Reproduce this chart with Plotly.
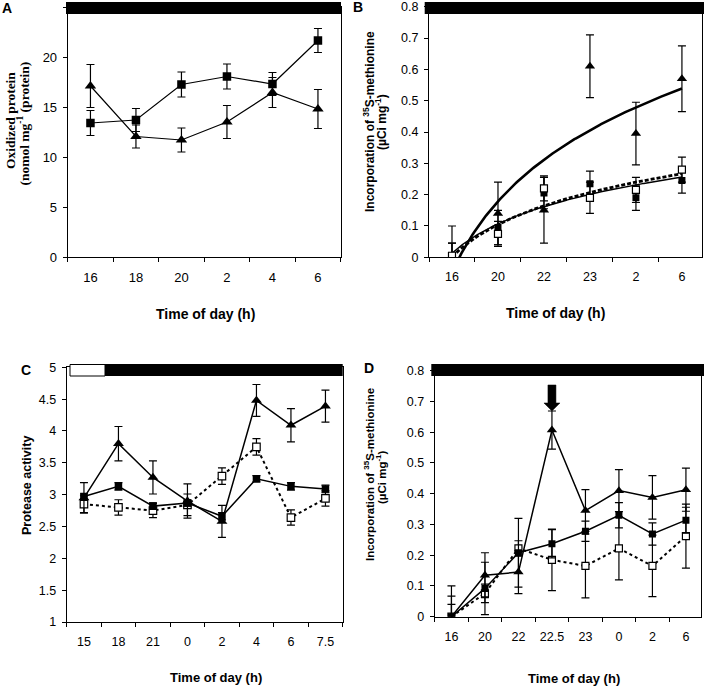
import numpy as np
import plotly.graph_objects as go

W, H = 704, 686

# ---------------- data ----------------
A_labels = ["16", "18", "20", "2", "4", "6"]
A_sq = [13.4, 13.7, 17.25, 18.05, 17.3, 21.65]
A_sq_err = [1.25, 1.15, 1.25, 1.25, 1.15, 1.2]
A_tri = [17.1, 12.05, 11.7, 13.5, 16.45, 14.8]
A_tri_err = [2.15, 1.15, 1.2, 1.65, 1.5, 1.95]

B_labels = ["16", "20", "22", "23", "2", "6"]
B_tri = [0.0, 0.14, 0.15, 0.61, 0.395, 0.57]
B_tri_err = [0.10, 0.10, 0.105, 0.10, 0.10, 0.105]
B_sq = [0.0, 0.095, 0.205, 0.235, 0.19, 0.245]
B_sq_err = [0.045, 0.055, 0.05, 0.04, 0.04, 0.04]
B_open = [0.005, 0.075, 0.22, 0.19, 0.215, 0.28]
B_open_err = [0.04, 0.04, 0.04, 0.05, 0.04, 0.04]

C_labels = ["15", "18", "21", "0", "2", "4", "6", "7.5"]
C_tri = [2.95, 3.8, 3.27, 2.9, 2.58, 4.48, 4.09, 4.39]
C_tri_err = [0.24, 0.27, 0.26, 0.27, 0.25, 0.25, 0.26, 0.25]
C_sq = [2.97, 3.13, 2.82, 2.87, 2.66, 3.25, 3.13, 3.09]
C_sq_err = [0.04, 0.06, 0.05, 0.05, 0.06, 0.05, 0.06, 0.06]
C_open = [2.85, 2.8, 2.75, 2.84, 3.29, 3.75, 2.64, 2.94]
C_open_err = [0.13, 0.12, 0.11, 0.17, 0.13, 0.13, 0.12, 0.12]

D_labels = ["16", "20", "22", "22.5", "23", "0", "2", "6"]
D_tri = [0.0, 0.135, 0.145, 0.607, 0.345, 0.41, 0.388, 0.413]
D_tri_err = [0.1, 0.073, 0.07, 0.062, 0.068, 0.068, 0.071, 0.07]
D_sq = [0.0, 0.092, 0.208, 0.237, 0.278, 0.33, 0.269, 0.314]
D_sq_err = [0.067, 0.085, 0.112, 0.046, 0.033, 0.041, 0.036, 0.042]
D_open = [0.0, 0.076, 0.222, 0.185, 0.165, 0.222, 0.165, 0.262]
D_open_err = [0.04, 0.03, 0.025, 0.1, 0.104, 0.102, 0.1, 0.104]
D_arrow_label = "22.5"

# ---------------- helpers ----------------
SANS = "Liberation Sans, Arial, sans-serif"
SERIF = "Liberation Serif, Times New Roman, serif"


def px(x):
    return x / W


def py(y):
    return 1 - y / H


fig = go.Figure()


def err(arr, w=4):
    return dict(type="data", array=arr, visible=True, color="black", thickness=1.2, width=w)


def add_series(xa, ya, xs, ys, es, kind, mode, size, line=None):
    if kind == "tri":
        marker = dict(symbol="triangle-up", size=size, color="black")
    elif kind == "sq":
        marker = dict(symbol="square", size=size, color="black")
    else:
        marker = dict(symbol="square", size=size, color="white", line=dict(color="black", width=1.2))
    fig.add_trace(go.Scatter(x=xs, y=ys, mode=mode, marker=marker, line=line,
                             error_y=err(es), xaxis=xa, yaxis=ya, showlegend=False,
                             hoverinfo="skip"))


# Panel A
xa = list(range(len(A_labels)))
add_series("x", "y", xa, A_sq, A_sq_err, "sq", "lines+markers", 8.5, dict(color="black", width=1.2))
add_series("x", "y", xa, A_tri, A_tri_err, "tri", "lines+markers", 10, dict(color="black", width=1.2))

# Panel B: points + logarithmic trendlines fitted to the data
xb = list(range(len(B_labels)))
grid = np.linspace(0, len(B_labels) - 1, 200)
for vals, style in [(B_tri, dict(color="black", width=2.6)),
                    (B_sq, dict(color="black", width=1.5)),
                    (B_open, dict(color="black", width=2.8, dash="4px,2px"))]:
    a, b = np.polyfit(np.log(np.array(xb) + 1.0), np.array(vals), 1)
    fig.add_trace(go.Scatter(x=grid, y=a * np.log(grid + 1.0) + b, mode="lines", line=style,
                             xaxis="x2", yaxis="y2", showlegend=False, hoverinfo="skip"))
add_series("x2", "y2", xb, B_tri, B_tri_err, "tri", "markers", 9)
add_series("x2", "y2", xb, B_sq, B_sq_err, "sq", "markers", 7)
add_series("x2", "y2", xb, B_open, B_open_err, "open", "markers", 7)

# Panel C
xc = list(range(len(C_labels)))
add_series("x3", "y3", xc, C_open, C_open_err, "open", "lines+markers", 7.5,
           dict(color="black", width=2, dash="dot"))
add_series("x3", "y3", xc, C_tri, C_tri_err, "tri", "lines+markers", 9.5, dict(color="black", width=1.5))
add_series("x3", "y3", xc, C_sq, C_sq_err, "sq", "lines+markers", 7.5, dict(color="black", width=1.5))

# Panel D
xd = list(range(len(D_labels)))
add_series("x4", "y4", xd, D_open, D_open_err, "open", "lines+markers", 7,
           dict(color="black", width=2, dash="dot"))
add_series("x4", "y4", xd, D_tri, D_tri_err, "tri", "lines+markers", 9, dict(color="black", width=1.5))
add_series("x4", "y4", xd, D_sq, D_sq_err, "sq", "lines+markers", 7, dict(color="black", width=1.5))

# ---------------- axes ----------------


def tf(size):
    return dict(family=SANS, size=size, color="black")


def xaxis_cfg(labels, dom, rng, fs):
    n = len(labels)
    return dict(domain=[px(dom[0]), px(dom[1])], range=rng, tickmode="array",
                tickvals=list(range(n)), ticktext=labels, ticks="outside", ticklen=0,
                tickcolor="rgba(0,0,0,0)",
                minor=dict(tickmode="array", tickvals=[i - 0.5 for i in range(n + 1)],
                           ticks="outside", ticklen=4, tickcolor="black", tickwidth=1, showgrid=False),
                showline=True, linecolor="black", linewidth=1, mirror=True, showgrid=False,
                zeroline=False, tickfont=tf(fs), automargin=False, ticklabelstandoff=8,
                fixedrange=True)


def yaxis_cfg(ydom, rng, dtick, fs):
    return dict(domain=[py(ydom[1]), py(ydom[0])], range=rng, dtick=dtick, tick0=rng[0],
                ticks="outside", ticklen=4, tickcolor="black", showline=True, linecolor="black",
                linewidth=1, mirror=True, showgrid=False, zeroline=False, tickfont=tf(fs),
                automargin=False, ticklabelstandoff=3, fixedrange=True)


layout = dict(
    width=W, height=H, margin=dict(l=0, r=0, t=0, b=0),
    paper_bgcolor="white", plot_bgcolor="white", template="none", showlegend=False,
    xaxis=dict(xaxis_cfg(A_labels, (67.7, 340.7), [-0.5, 5.5], 13), anchor="y"),
    yaxis=dict(yaxis_cfg((7, 257), [0, 25], 5, 13), anchor="x"),
    xaxis2=dict(xaxis_cfg(B_labels, (429, 701.7), [-0.5, 5.43], 12.5), anchor="y2"),
    yaxis2=dict(yaxis_cfg((6.7, 257.3), [0, 0.8], 0.1, 12.5), anchor="x2"),
    xaxis3=dict(xaxis_cfg(C_labels, (66.7, 342.7), [-0.5, 7.5], 12.5), anchor="y3"),
    yaxis3=dict(yaxis_cfg((367.3, 622), [1, 5], 0.5, 12.5), anchor="x3"),
    xaxis4=dict(xaxis_cfg(D_labels, (434.7, 701), [-0.5, 7.45], 12.5), anchor="y4"),
    yaxis4=dict(yaxis_cfg((370.7, 616.7), [0, 0.8], 0.1, 12.5), anchor="x4"),
)
fig.update_layout(**layout)

# ---------------- light/dark bars ----------------
shapes = []


def rect(x0, x1, y0, y1, fill, line_w=0):
    shapes.append(dict(type="rect", xref="paper", yref="paper", x0=px(x0), x1=px(x1),
                       y0=py(y1), y1=py(y0), fillcolor=fill,
                       line=dict(color="black", width=line_w), layer="above"))


rect(66, 341, 2, 14, "black")
rect(424.7, 704, 2, 14, "black")
rect(70, 105, 364.5, 376, "white", 1)
rect(105, 342.7, 364, 376, "black")
rect(431.3, 704, 364, 376, "black")

# arrow in D pointing at the peak (tip at top of the error bar)
k = D_labels.index(D_arrow_label)
tip = D_tri[k] + D_tri_err[k]
shapes.append(dict(type="path", xref="x4", yref="y4", xsizemode="pixel", ysizemode="pixel",
                   xanchor=k, yanchor=tip,
                   path="M-4,26 L4,26 L4,8 L8,8 L0,0 L-8,8 L-4,8 Z",
                   fillcolor="black", line=dict(color="black", width=0.5), layer="above"))
fig.update_layout(shapes=shapes)

# ---------------- text ----------------
ann = []


def text(x, y, s, size=12.5, angle=0, family=SANS, bold=True):
    ann.append(dict(x=px(x), y=py(y), xref="paper", yref="paper", text=("<b>%s</b>" % s) if bold else s,
                    showarrow=False, textangle=angle, xanchor="center", yanchor="middle",
                    font=dict(family=family, size=size, color="black")))


text(7, 8.3, "A", 14)
text(357.5, 6.7, "B", 14)
text(26, 369.5, "C", 14)
text(369, 368.3, "D", 14)

text(205, 314, "Time of day (h)", 14)
text(555, 313, "Time of day (h)", 14)
text(216, 677, "Time of day (h)", 13)
text(574, 678, "Time of day (h)", 13)

text(11, 121, "Oxidized protein", 13.5, -90, SERIF)
text(23.5, 124, "(nomol mg<sup>-1</sup> (protein)", 13.5, -90, SERIF)

text(369, 122, "Incorporation of <sup>35</sup>S-methionine", 12, -90)
text(381, 122, "(µCi mg<sup>-1</sup>)", 12, -90)
text(27, 486, "Protease activity", 12.5, -90)
text(369, 475, "Incorporation of <sup>35</sup>S-methionine", 11.5, -90)
text(381, 477, "(µCi mg<sup>-1</sup>)", 11.5, -90)

fig.update_layout(annotations=ann)

fig.write_html("out.html", config={"displayModeBar": False, "staticPlot": True},
               post_script="document.body.style.margin='0px';document.body.style.overflow='hidden';")
